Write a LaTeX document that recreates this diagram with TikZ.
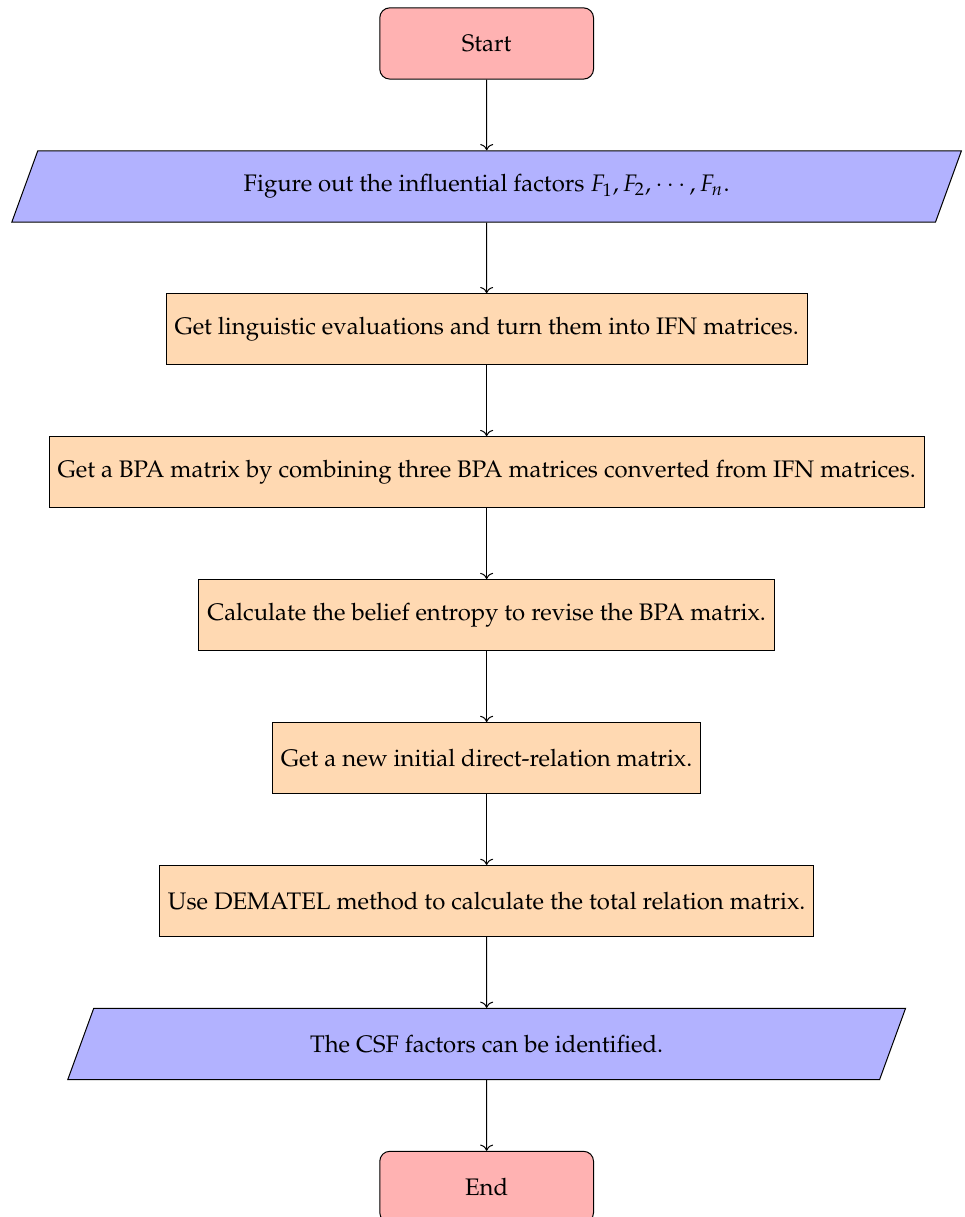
\documentclass[tikz,border=0pt]{standalone}
\usepackage[T1]{fontenc}
\usepackage{mathpazo}
\usepackage{tikz}
\usetikzlibrary{
	arrows.meta,
	positioning,
	shapes.geometric
}

\begin{document}
\begin{tikzpicture}[
			font=\fontsize{9.55}{11.5}\selectfont,
			node distance=2.006cm, on grid,
			startstop/.style={rectangle, rounded corners, minimum width=3cm, minimum height=1cm, text centered, draw=black, fill=red!30},
			io/.style={trapezium, trapezium left angle=70, trapezium right angle=110, minimum width=3cm, minimum height=1cm, inner xsep=5.5pt, text centered, draw=black, fill=blue!30},
			process/.style={rectangle, minimum width=3cm, minimum height=1cm, text centered, draw=black, fill=orange!30},
			fl/.style={->}
		]
		\useasboundingbox (-6.83,0.61) rectangle (6.70,-16.47);

		\node[startstop] (start) at (0,0) {Start};
		\node[io, below=of start] (fatores) {Figure out the influential factors $F_1, F_2, \cdots, F_n$.};
		\node[process, below=of fatores] (ling) {Get linguistic evaluations and turn them into IFN matrices.};
		\node[process, below=of ling] (bpa) {Get a BPA matrix by combining three BPA matrices converted from IFN matrices.};
		\node[process, below=of bpa] (entropia) {Calculate the belief entropy to revise the BPA matrix.};
		\node[process, below=of entropia] (inicial) {Get a new initial direct-relation matrix.};
		\node[process, below=of inicial] (dematel) {Use DEMATEL method to calculate the total relation matrix.};
		\node[io, below=of dematel] (csf) {The CSF factors can be identified.};
		\node[startstop, below=of csf] (stop) {End};

		\draw[fl] (start) -- (fatores);
		\draw[fl] (fatores) -- (ling);
		\draw[fl] (ling) -- (bpa);
		\draw[fl] (bpa) -- (entropia);
		\draw[fl] (entropia) -- (inicial);
		\draw[fl] (inicial) -- (dematel);
		\draw[fl] (dematel) -- (csf);
		\draw[fl] (csf) -- (stop);
	\end{tikzpicture}
\end{document}
